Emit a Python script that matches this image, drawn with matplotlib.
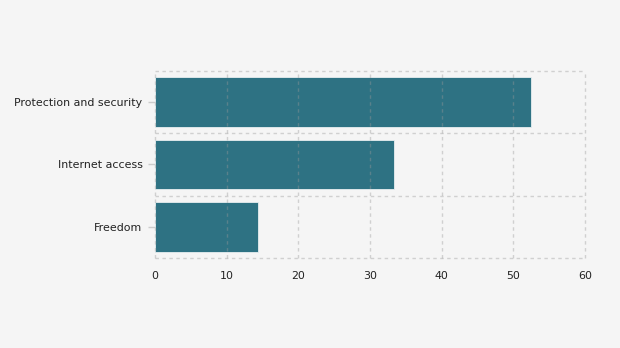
import matplotlib.pyplot as plt
import numpy as np

categories = ["Protection and security", "Internet access", "Freedom"]
values = [52.4, 33.4, 14.4]
xticks = [0, 10, 20, 30, 40, 50, 60]

bg = "#f5f5f5"
fig = plt.figure(figsize=(6.2, 3.48), dpi=100, facecolor=bg)
ax = fig.add_axes([0.25, 0.2586, 0.6935, 0.5374], facecolor=bg)

y = np.arange(len(categories))[::-1]
ax.barh(y, values, height=0.8, color="#2e7283", edgecolor="#e8eef0",
        linewidth=0.6, zorder=2)

ax.set_xlim(0, 60)
ax.set_ylim(-0.5, len(categories) - 0.5)
ax.set_xticks(xticks)
ax.set_yticks(y)
ax.set_yticklabels(categories)
ax.set_yticks(np.arange(-0.5, len(categories)), minor=True)

for s in ax.spines.values():
    s.set_visible(False)

grid_kw = dict(color="#9a9a9a", alpha=0.4, linestyle=(0, (2.5, 2.5)), linewidth=1.0,
               clip_on=False)
ax.grid(axis="x", which="major", zorder=3, **grid_kw)
ax.grid(axis="y", which="minor", zorder=3, **grid_kw)
ax.set_axisbelow(False)

ax.tick_params(axis="y", which="major", length=5, color="#cccccc", width=1,
               labelsize=7.9, labelcolor="#222222", pad=4)
ax.tick_params(axis="y", which="minor", length=0)
ax.tick_params(axis="x", length=0, labelsize=7.9, labelcolor="#222222", pad=9)

fig.savefig("out.png", dpi=100, facecolor=bg)
